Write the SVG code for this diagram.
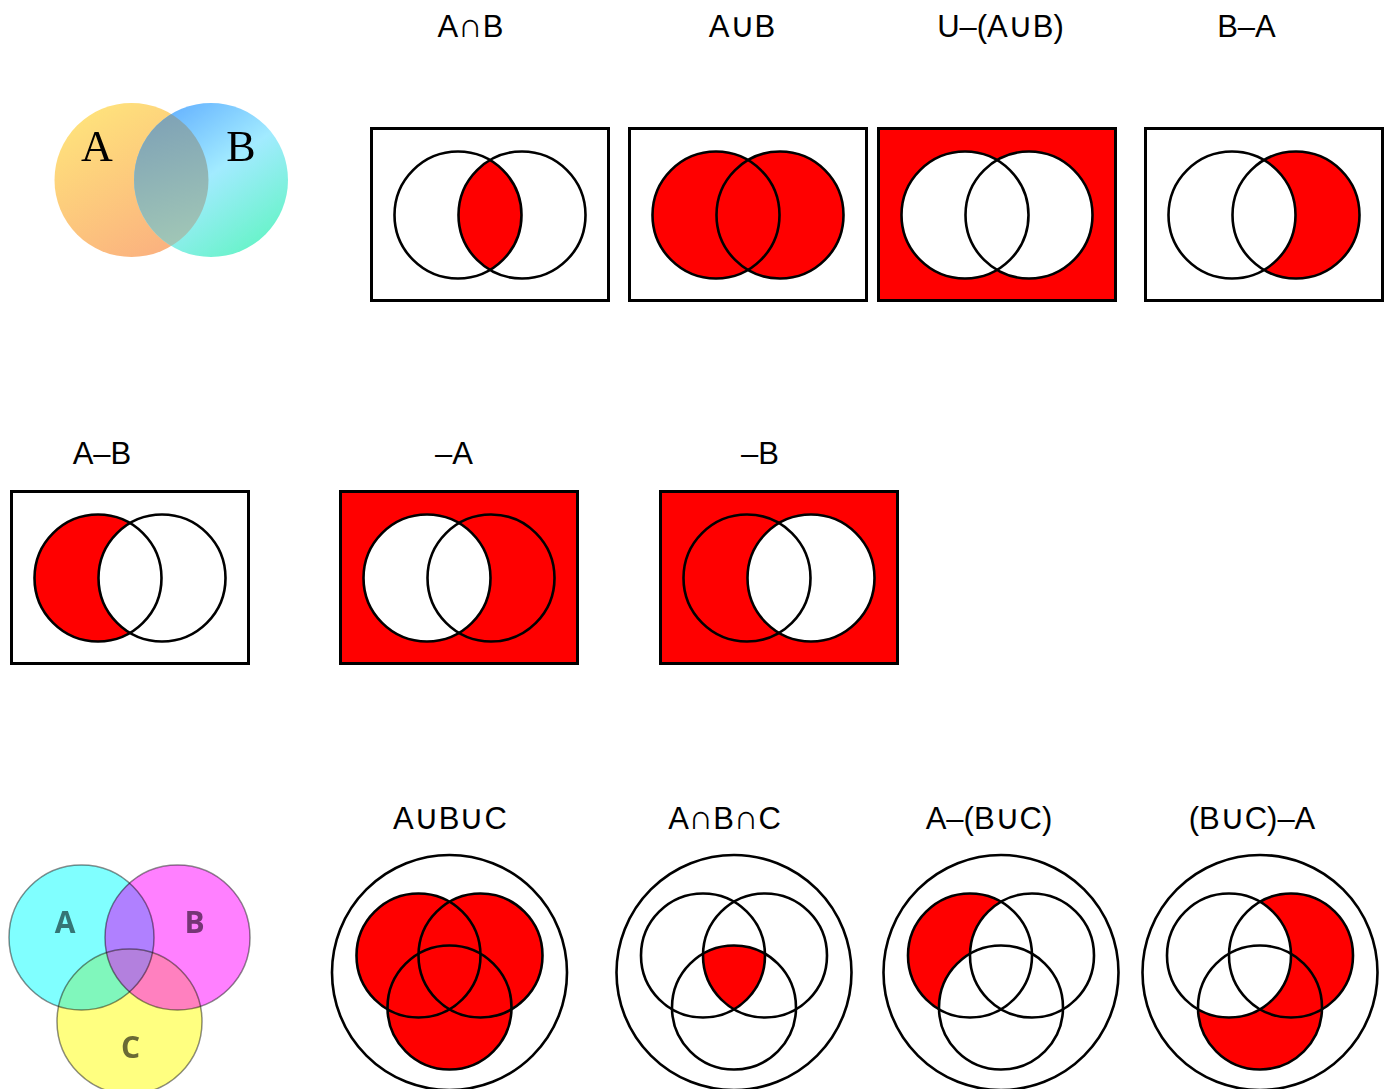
<svg xmlns="http://www.w3.org/2000/svg" width="1389" height="1089" viewBox="0 0 1389 1089">
  <style>
    .lbl { font-family: "Liberation Sans", "DejaVu Sans", sans-serif; font-size: 31px; fill: #000; text-anchor: middle; }
    .op { font-family: "DejaVu Sans", sans-serif; font-weight: 200; font-size: 34px; }
    .frame { stroke: #000; stroke-width: 3; }
    .ring { fill: none; stroke: #000; stroke-width: 2.6; }
    .red { fill: #ff0000; }
    .wht { fill: #ffffff; }
    .tag3 { font-family: "Open Sans", "DejaVu Sans", sans-serif; font-weight: bold; font-size: 30px; text-anchor: middle; }
  </style>
  <defs>
    <!-- two-set panel geometry (local coords, frame origin at top-left) -->
    <circle id="cA" cx="88" cy="88" r="63.5"/>
    <circle id="cB" cx="152" cy="88" r="63.5"/>
    <clipPath id="clipA2"><circle cx="88" cy="88" r="63.5"/></clipPath>
    <!-- three-set panel geometry (local coords, centred on outer circle) -->
    <circle id="tA" cx="-31" cy="-17" r="62"/>
    <circle id="tB" cx="31" cy="-17" r="62"/>
    <circle id="tC" cx="0" cy="35" r="62"/>
    <clipPath id="clipTA"><circle cx="-31" cy="-17" r="62"/></clipPath>
    <clipPath id="clipTB"><circle cx="31" cy="-17" r="62"/></clipPath>

    <!-- colour Venn, two sets -->
    <linearGradient id="gA" x1="0" y1="0" x2="0.6" y2="1">
      <stop offset="0" stop-color="#ffe97a"/>
      <stop offset="1" stop-color="#fbb37f"/>
    </linearGradient>
    <linearGradient id="gB" x1="0.1" y1="0" x2="0.8" y2="1">
      <stop offset="0" stop-color="#5aa8ff"/>
      <stop offset="0.5" stop-color="#a2ebff"/>
      <stop offset="1" stop-color="#62f4c4"/>
    </linearGradient>
    <linearGradient id="gAB" x1="0" y1="0" x2="0.3" y2="1">
      <stop offset="0" stop-color="#7a9db6"/>
      <stop offset="1" stop-color="#a4cab6"/>
    </linearGradient>
    <clipPath id="clipVA"><circle cx="131.5" cy="180" r="77"/></clipPath>
    <!-- colour Venn, three sets -->
    <clipPath id="clipVa"><circle cx="81.5" cy="937.5" r="72.5"/></clipPath>
    <clipPath id="clipVb"><circle cx="177.5" cy="937.5" r="72.5"/></clipPath>
    <filter id="soft" x="-5%" y="-5%" width="110%" height="110%">
      <feGaussianBlur stdDeviation="0.6"/>
    </filter>
  </defs>

  <!-- two-set colour illustration -->
  <g id="venn-ab" filter="url(#soft)">
    <circle cx="131.5" cy="180" r="77" fill="url(#gA)"/>
    <circle cx="211" cy="180" r="77" fill="url(#gB)"/>
    <circle cx="211" cy="180" r="77" fill="url(#gAB)" clip-path="url(#clipVA)"/>
    <text x="97" y="161" font-family="'Liberation Serif', 'DejaVu Serif', serif" font-size="44" text-anchor="middle">A</text>
    <text x="241" y="161" font-family="'Liberation Serif', 'DejaVu Serif', serif" font-size="44" text-anchor="middle">B</text>
  </g>

  <!-- row 1 labels -->
  <text class="lbl" x="470.5" y="37">A<tspan class="op">∩</tspan>B</text>
  <text class="lbl" x="742" y="37">A<tspan class="op">∪</tspan>B</text>
  <text class="lbl" x="1000.5" y="37">U–(A<tspan class="op">∪</tspan>B)</text>
  <text class="lbl" x="1246.5" y="37">B–A</text>

  <!-- A∩B -->
  <g id="p-intersect" transform="translate(370,127)">
    <rect class="frame wht" x="1.5" y="1.5" width="237" height="172"/>
    <use href="#cB" class="red" clip-path="url(#clipA2)"/>
    <use href="#cA" class="ring"/>
    <use href="#cB" class="ring"/>
  </g>

  <!-- A∪B -->
  <g id="p-union" transform="translate(628,127)">
    <rect class="frame wht" x="1.5" y="1.5" width="237" height="172"/>
    <use href="#cA" class="red"/>
    <use href="#cB" class="red"/>
    <use href="#cA" class="ring"/>
    <use href="#cB" class="ring"/>
  </g>

  <!-- U-(A∪B) -->
  <g id="p-complement-union" transform="translate(877,127)">
    <rect class="frame red" x="1.5" y="1.5" width="237" height="172"/>
    <use href="#cA" class="wht"/>
    <use href="#cB" class="wht"/>
    <use href="#cA" class="ring"/>
    <use href="#cB" class="ring"/>
  </g>

  <!-- B-A -->
  <g id="p-b-minus-a" transform="translate(1144,127)">
    <rect class="frame wht" x="1.5" y="1.5" width="237" height="172"/>
    <use href="#cB" class="red"/>
    <use href="#cA" class="wht"/>
    <use href="#cA" class="ring"/>
    <use href="#cB" class="ring"/>
  </g>

  <!-- row 2 labels -->
  <text class="lbl" x="102" y="464">A–B</text>
  <text class="lbl" x="454" y="464">–A</text>
  <text class="lbl" x="760" y="464">–B</text>

  <!-- A-B -->
  <g id="p-a-minus-b" transform="translate(10,490)">
    <rect class="frame wht" x="1.5" y="1.5" width="237" height="172"/>
    <use href="#cA" class="red"/>
    <use href="#cB" class="wht"/>
    <use href="#cA" class="ring"/>
    <use href="#cB" class="ring"/>
  </g>

  <!-- -A -->
  <g id="p-not-a" transform="translate(339,490)">
    <rect class="frame red" x="1.5" y="1.5" width="237" height="172"/>
    <use href="#cA" class="wht"/>
    <use href="#cA" class="ring"/>
    <use href="#cB" class="ring"/>
  </g>

  <!-- -B -->
  <g id="p-not-b" transform="translate(659,490)">
    <rect class="frame red" x="1.5" y="1.5" width="237" height="172"/>
    <use href="#cB" class="wht"/>
    <use href="#cA" class="ring"/>
    <use href="#cB" class="ring"/>
  </g>

  <!-- three-set colour illustration -->
  <g id="venn-abc" filter="url(#soft)">
    <circle cx="81.5" cy="937.5" r="72.5" fill="#80ffff"/>
    <circle cx="177.5" cy="937.5" r="72.5" fill="#ff80ff"/>
    <circle cx="129.5" cy="1021.5" r="72.5" fill="#ffff80"/>
    <circle cx="177.5" cy="937.5" r="72.5" fill="#b080ff" clip-path="url(#clipVa)"/>
    <circle cx="129.5" cy="1021.5" r="72.5" fill="#80f7bc" clip-path="url(#clipVa)"/>
    <circle cx="129.5" cy="1021.5" r="72.5" fill="#ff80bf" clip-path="url(#clipVb)"/>
    <g clip-path="url(#clipVa)">
      <circle cx="129.5" cy="1021.5" r="72.5" fill="#b380de" clip-path="url(#clipVb)"/>
    </g>
    <g fill="none" stroke="#000" stroke-opacity="0.45" stroke-width="1.5">
      <circle cx="81.5" cy="937.5" r="72.5"/>
      <circle cx="177.5" cy="937.5" r="72.5"/>
      <circle cx="129.5" cy="1021.5" r="72.5"/>
    </g>
    <text class="tag3" x="65" y="933" fill="#357575">A</text>
    <text class="tag3" x="194.5" y="933" fill="#753575">B</text>
    <text class="tag3" x="130.5" y="1058" fill="#6a6a35">C</text>
  </g>

  <!-- row 3 labels -->
  <text class="lbl" x="450" y="829">A<tspan class="op">∪</tspan>B<tspan class="op">∪</tspan>C</text>
  <text class="lbl" x="724.5" y="829">A<tspan class="op">∩</tspan>B<tspan class="op">∩</tspan>C</text>
  <text class="lbl" x="989" y="829">A–(B<tspan class="op">∪</tspan>C)</text>
  <text class="lbl" x="1252" y="829">(B<tspan class="op">∪</tspan>C)–A</text>

  <!-- A∪B∪C -->
  <g id="t-union" transform="translate(449.5,972.5)">
    <circle class="ring" r="117.5"/>
    <use href="#tA" class="red"/>
    <use href="#tB" class="red"/>
    <use href="#tC" class="red"/>
    <use href="#tA" class="ring"/>
    <use href="#tB" class="ring"/>
    <use href="#tC" class="ring"/>
  </g>

  <!-- A∩B∩C -->
  <g id="t-intersect" transform="translate(734,972.5)">
    <circle class="ring" r="117.5"/>
    <g clip-path="url(#clipTA)">
      <use href="#tC" class="red" clip-path="url(#clipTB)"/>
    </g>
    <use href="#tA" class="ring"/>
    <use href="#tB" class="ring"/>
    <use href="#tC" class="ring"/>
  </g>

  <!-- A-(B∪C) -->
  <g id="t-a-minus-bc" transform="translate(1001,972.5)">
    <circle class="ring" r="117.5"/>
    <use href="#tA" class="red"/>
    <use href="#tB" class="wht"/>
    <use href="#tC" class="wht"/>
    <use href="#tA" class="ring"/>
    <use href="#tB" class="ring"/>
    <use href="#tC" class="ring"/>
  </g>

  <!-- (B∪C)-A -->
  <g id="t-bc-minus-a" transform="translate(1260,972.5)">
    <circle class="ring" r="117.5"/>
    <use href="#tB" class="red"/>
    <use href="#tC" class="red"/>
    <use href="#tA" class="wht"/>
    <use href="#tA" class="ring"/>
    <use href="#tB" class="ring"/>
    <use href="#tC" class="ring"/>
  </g>

  <!-- no connectors in this figure -->
  <g id="connectors"/>
</svg>
